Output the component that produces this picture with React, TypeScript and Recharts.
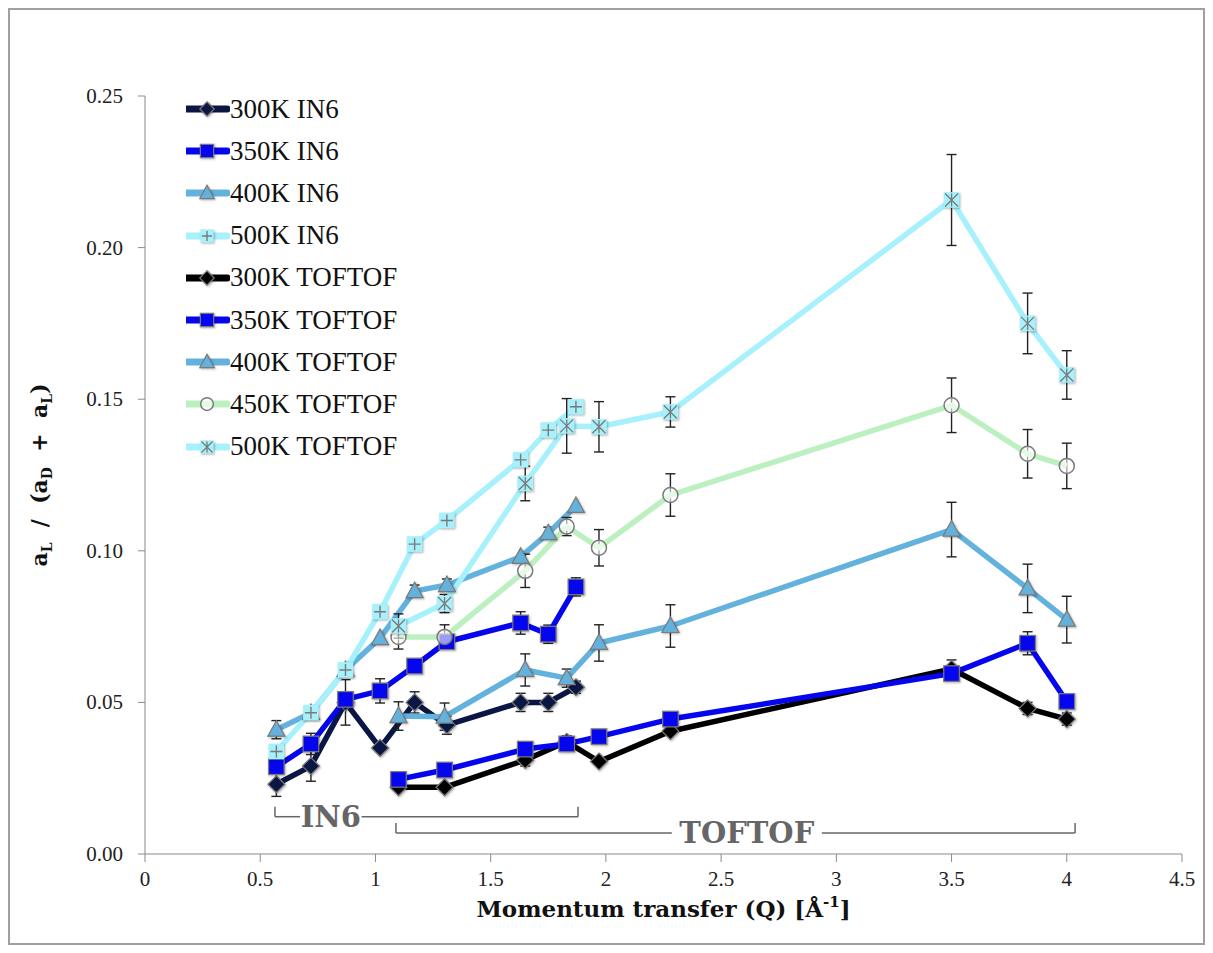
import React from "react";
import {
  ComposedChart,
  Line,
  XAxis,
  YAxis,
  ErrorBar,
  Legend,
  ReferenceLine,
  Label,
} from "recharts";

// momentum transfer values (1/Å) for each instrument
const qIN6 = [0.57, 0.72, 0.87, 1.02, 1.17, 1.31, 1.63, 1.75, 1.87];
const qTOFTOF = [1.1, 1.3, 1.65, 1.83, 1.97, 2.28, 3.5, 3.83, 4.0];

// aL / (aD + aL)
const in6K300 = [0.023, 0.029, 0.05, 0.035, 0.05, 0.0425, 0.05, 0.05, 0.055];
const in6K300Err = [0.004, 0.005, 0.0075, 0, 0.0035, 0.003, 0.003, 0.003, 0.002];
const in6K350 = [0.0288, 0.0363, 0.051, 0.0538, 0.062, 0.07, 0.0762, 0.0725, 0.0881];
const in6K350Err = [0, 0.0035, 0.002, 0.004, 0.002, 0.002, 0.0037, 0.003, 0.003];
const in6K400 = [0.041, 0.0465, 0.0607, 0.0712, 0.0867, 0.0887, 0.098, 0.1058, 0.1148];
const in6K400Err = [0.003, 0, 0, 0, 0.002, 0.002, 0, 0.002, 0];
const in6K500 = [0.0338, 0.0466, 0.0607, 0.0799, 0.1022, 0.11, 0.13, 0.1398, 0.1475];
const in6K500Err = [0, 0, 0, 0, 0, 0, 0, 0, 0];

const tofK300 = [0.022, 0.022, 0.031, 0.037, 0.0305, 0.0405, 0.061, 0.048, 0.0445];
const tofK300Err = [0, 0, 0.002, 0.002, 0, 0, 0.003, 0.002, 0.002];
const tofK350 = [0.0246, 0.0277, 0.0346, 0.0363, 0.0387, 0.0445, 0.0595, 0.0695, 0.0503];
const tofK350Err = [0, 0, 0, 0, 0, 0, 0.002, 0.0038, 0];
const tofK400 = [0.0455, 0.0453, 0.0607, 0.058, 0.0696, 0.0752, 0.107, 0.0876, 0.0773];
const tofK400Err = [0.0047, 0.0045, 0.0053, 0.003, 0.006, 0.007, 0.009, 0.008, 0.0077];
const tofK450 = [0.0716, 0.0716, 0.0934, 0.108, 0.101, 0.1184, 0.148, 0.132, 0.128];
const tofK450Err = [0.004, 0.004, 0.0055, 0.003, 0.006, 0.007, 0.009, 0.008, 0.0075];
const tofK500 = [0.0752, 0.0826, 0.1222, 0.1412, 0.1409, 0.1458, 0.2157, 0.175, 0.158];
const tofK500Err = [0.004, 0.003, 0.0057, 0.009, 0.0083, 0.005, 0.015, 0.01, 0.008];

const xTicks = [0, 0.5, 1, 1.5, 2, 2.5, 3, 3.5, 4, 4.5];
const yTicks = [0, 0.05, 0.1, 0.15, 0.2, 0.25];

// instrument brackets under the data
const in6Span = [0.564, 1.879];
const in6Gap = [0.673, 0.94];
const tofSpan = [1.089, 4.036];
const tofGap = [2.286, 2.937];

const SERIF = "Liberation Serif";
const TITLE = "DejaVu Serif";

type MarkerKind = "diamond" | "square" | "triangle" | "plus" | "circle" | "star";

interface Series {
  name: string;
  q: number[];
  y: number[];
  err: number[];
  color: string;
  fill: string;
  marker: MarkerKind;
}

const NAVY = "#0a1744";
const BLUE = "#0606ee";
const STEEL = "#63b2de";
const CYAN = "#a6f1fc";
const MINT = "#bdf0c0";

const series: Series[] = [
  { name: "300K IN6", q: qIN6, y: in6K300, err: in6K300Err, color: NAVY, fill: NAVY, marker: "diamond" },
  { name: "350K IN6", q: qIN6, y: in6K350, err: in6K350Err, color: BLUE, fill: BLUE, marker: "square" },
  { name: "400K IN6", q: qIN6, y: in6K400, err: in6K400Err, color: STEEL, fill: STEEL, marker: "triangle" },
  { name: "500K IN6", q: qIN6, y: in6K500, err: in6K500Err, color: CYAN, fill: CYAN, marker: "plus" },
  { name: "300K TOFTOF", q: qTOFTOF, y: tofK300, err: tofK300Err, color: "#000000", fill: "#000000", marker: "diamond" },
  { name: "350K TOFTOF", q: qTOFTOF, y: tofK350, err: tofK350Err, color: BLUE, fill: BLUE, marker: "square" },
  { name: "400K TOFTOF", q: qTOFTOF, y: tofK400, err: tofK400Err, color: STEEL, fill: STEEL, marker: "triangle" },
  { name: "450K TOFTOF", q: qTOFTOF, y: tofK450, err: tofK450Err, color: MINT, fill: "rgba(255,255,255,0.6)", marker: "circle" },
  { name: "500K TOFTOF", q: qTOFTOF, y: tofK500, err: tofK500Err, color: CYAN, fill: CYAN, marker: "star" },
];

const EDGE = "#7a7a7a";
const SHADOW = { filter: "drop-shadow(1px 1.5px 1px rgba(0,0,0,0.3))" };

function Marker({ kind, cx, cy, fill, k = 1 }: { kind: MarkerKind; cx: number; cy: number; fill: string; k?: number }) {
  const r = 8.5 * k;
  const s = 7.8 * k;
  if (kind === "circle") {
    return <circle cx={cx} cy={cy} r={7.5 * k} fill={fill} stroke={EDGE} strokeWidth={1.5} />;
  }
  let shape: React.ReactNode = null;
  if (kind === "diamond") {
    shape = (
      <polygon
        points={`${cx},${cy - r} ${cx + r},${cy} ${cx},${cy + r} ${cx - r},${cy}`}
        fill={fill}
        stroke={EDGE}
        strokeWidth={1.2}
      />
    );
  } else if (kind === "square") {
    shape = <rect x={cx - s} y={cy - s} width={2 * s} height={2 * s} fill={fill} stroke={EDGE} strokeWidth={1.2} />;
  } else if (kind === "triangle") {
    shape = (
      <polygon
        points={`${cx},${cy - 9 * k} ${cx + 8.5 * k},${cy + 6.5 * k} ${cx - 8.5 * k},${cy + 6.5 * k}`}
        fill={fill}
        stroke={EDGE}
        strokeWidth={1.2}
      />
    );
  } else if (kind === "plus") {
    const a = 6 * k;
    shape = (
      <g>
        <rect x={cx - s} y={cy - s} width={2 * s} height={2 * s} fill={fill} />
        <path d={`M${cx - a},${cy}H${cx + a}M${cx},${cy - a}V${cy + a}`} stroke={EDGE} strokeWidth={1.4} />
      </g>
    );
  } else {
    const a = 6.5 * k;
    shape = (
      <g>
        <rect x={cx - s} y={cy - s} width={2 * s} height={2 * s} fill={fill} />
        <path
          d={`M${cx - a},${cy - a}L${cx + a},${cy + a}M${cx - a},${cy + a}L${cx + a},${cy - a}M${cx},${cy - a}V${cy + a}`}
          stroke={EDGE}
          strokeWidth={1.3}
        />
      </g>
    );
  }
  return <g style={SHADOW}>{shape}</g>;
}

function LegendBox() {
  return (
    <div style={{ fontFamily: SERIF, fontSize: 27, color: "#111" }}>
      {series.map((s) => (
        <div key={s.name} style={{ display: "flex", alignItems: "center", height: 42.2, whiteSpace: "nowrap" }}>
          <svg width={44} height={24} style={{ display: "block" }}>
            <line x1={1} y1={12} x2={41} y2={12} stroke={s.color} strokeWidth={7} strokeLinecap="round" />
            <Marker kind={s.marker} cx={21} cy={12} fill={s.fill} k={0.85} />
          </svg>
          <span>{s.name}</span>
        </div>
      ))}
    </div>
  );
}

function XTick({ x, y, payload }: any) {
  return (
    <text x={x} y={y + 16} textAnchor="middle" fontFamily={SERIF} fontSize={21} fill="#222">
      {String(payload.value)}
    </text>
  );
}

function YTick({ x, y, payload }: any) {
  return (
    <text x={x} y={y + 7} textAnchor="end" fontFamily={SERIF} fontSize={21} fill="#222">
      {payload.value.toFixed(2)}
    </text>
  );
}

function Bracket({ span, gap, y, top, text }: { span: number[]; gap: number[]; y: number; top: number; text: string }) {
  const st = { stroke: "#666", strokeWidth: 1.5, ifOverflow: "visible" as const };
  return [
    <ReferenceLine key={text + "a"} segment={[{ x: span[0], y: top }, { x: span[0], y }]} {...st} />,
    <ReferenceLine key={text + "b"} segment={[{ x: span[0], y }, { x: gap[0], y }]} {...st} />,
    <ReferenceLine key={text + "c"} segment={[{ x: gap[1], y }, { x: span[1], y }]} {...st} />,
    <ReferenceLine key={text + "d"} segment={[{ x: span[1], y }, { x: span[1], y: top }]} {...st} />,
    <ReferenceLine
      key={text + "e"}
      segment={[{ x: gap[0], y }, { x: gap[1], y }]}
      stroke="none"
      ifOverflow="visible"
    >
      <Label value={text} position="center" fill="#666" fontSize={29} fontWeight="bold" fontFamily={TITLE} />
    </ReferenceLine>,
  ];
}

export default function App() {
  return (
    <div style={{ width: 1193, height: 933, border: "2px solid #a0a0a0", position: "relative" }}>
      <ComposedChart width={1193} height={933} margin={{ top: 86, right: 21, bottom: 0, left: 0 }}>
        <XAxis
          type="number"
          dataKey="q"
          domain={[0, 4.5]}
          ticks={xTicks}
          allowDuplicatedCategory={false}
          height={89}
          stroke="#8a8a8a"
          tickSize={8}
          tickMargin={8}
          tick={<XTick />}
        >
          <Label
            content={({ viewBox }: any) => {
              const cx = viewBox.x + viewBox.width / 2;
              return (
                <text x={cx} y={viewBox.y + 63} textAnchor="middle" fontFamily={TITLE} fontWeight="bold" fontSize={23} fill="#111">
                  Momentum transfer (Q) [Å
                  <tspan fontSize={15} dy={-10}>-1</tspan>
                  <tspan dy={10}>]</tspan>
                </text>
              );
            }}
          />
        </XAxis>
        <YAxis
          type="number"
          domain={[0, 0.25]}
          ticks={yTicks}
          width={135}
          stroke="#8a8a8a"
          tickSize={7}
          tickMargin={15}
          tick={<YTick />}
        >
          <Label
            content={() => (
              <text
                transform="translate(37,465) rotate(-90)"
                textAnchor="middle"
                fontFamily={TITLE}
                fontWeight="bold"
                fontSize={22}
                fill="#111"
                style={{ whiteSpace: "pre" }}
              >
                a<tspan fontSize={14} dy={5}>L</tspan>
                <tspan dy={-5}>  /  (a</tspan>
                <tspan fontSize={14} dy={5}>D</tspan>
                <tspan dy={-5}>  +  a</tspan>
                <tspan fontSize={14} dy={5}>L</tspan>
                <tspan dy={-5}>)</tspan>
              </text>
            )}
          />
        </YAxis>

        {Bracket({ span: in6Span, gap: in6Gap, y: 0.0123, top: 0.0156, text: "IN6" })}
        {Bracket({ span: tofSpan, gap: tofGap, y: 0.0069, top: 0.0102, text: "TOFTOF" })}

        {series.map((s) => (
          <Line
            key={s.name}
            name={s.name}
            data={s.q.map((q, i) => ({ q, v: s.y[i], e: s.err[i] }))}
            dataKey="v"
            stroke={s.color}
            strokeWidth={5.5}
            strokeLinejoin="round"
            isAnimationActive={false}
            activeDot={false}
            dot={(p: any) => (
              <Marker key={`${s.name}-${p.index}`} kind={s.marker} cx={p.cx} cy={p.cy} fill={s.fill} />
            )}
          >
            <ErrorBar dataKey="e" direction="y" width={5} stroke="#222" strokeWidth={1.4} />
          </Line>
        ))}

        <Legend
          layout="vertical"
          align="center"
          verticalAlign="middle"
          width={260}
          wrapperStyle={{ left: 176, top: 78, width: 260 }}
          content={() => <LegendBox />}
        />
      </ComposedChart>
    </div>
  );
}
